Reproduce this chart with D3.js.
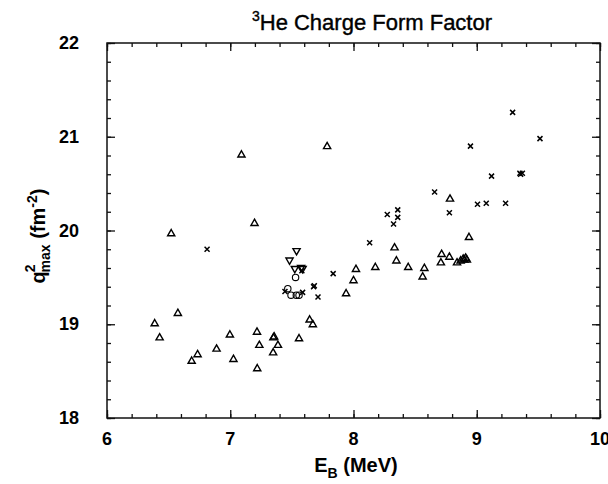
<!DOCTYPE html>
<html>
<head>
<meta charset="utf-8">
<script src="https://cdn.jsdelivr.net/npm/d3@7"></script>
<style>
  body { margin: 0; background: #fff; }
  svg { display: block; }
  .tick-label { font-family: "Liberation Sans", Arial, sans-serif; font-weight: bold; font-size: 18px; fill: #000; }
  .axis-label { font-family: "Liberation Sans", Arial, sans-serif; font-weight: bold; font-size: 20px; fill: #000; }
  .title { font-family: "Liberation Sans", Arial, sans-serif; font-size: 22px; fill: #000; stroke: #000; stroke-width: 0.4; }
</style>
</head>
<body>
<svg id="chart" width="608" height="484"></svg>
<script>
/*** DATA ***/

// triangles (point up)
let tri_x = [6.387, 6.427, 6.521, 6.575, 6.687, 6.735, 6.889, 6.997, 7.026, 7.091,
             7.197, 7.217, 7.219, 7.236, 7.348, 7.350, 7.356, 7.387, 7.558, 7.644,
             7.670, 7.786, 7.940, 8.000, 8.020, 8.177, 8.333, 8.348, 8.444, 8.561,
             8.575, 8.709, 8.715, 8.778, 8.783, 8.840, 8.869, 8.890, 8.900, 8.910, 8.920, 8.937];
let tri_y = [19.01, 18.86, 19.97, 19.12, 18.61, 18.68, 18.74, 18.89, 18.63, 20.81,
             20.08, 18.92, 18.53, 18.78, 18.70, 18.86, 18.87, 18.78, 18.85, 19.05,
             19.00, 20.90, 19.33, 19.47, 19.59, 19.61, 19.82, 19.68, 19.61, 19.51,
             19.60, 19.66, 19.75, 19.72, 20.34, 19.66, 19.68, 19.70, 19.69, 19.71, 19.69, 19.93];

// triangles (point down)
let dtri_x = [7.481, 7.538, 7.524, 7.575, 7.587];
let dtri_y = [19.68, 19.78, 19.59, 19.60, 19.59];

// circles
let circ_x = [7.467, 7.530, 7.493, 7.536, 7.558];
let circ_y = [19.38, 19.50, 19.31, 19.31, 19.31];

// crosses
let cross_x = [6.812, 7.444, 7.581, 7.587, 7.676, 7.682, 7.712, 7.835, 8.131, 8.274,
               8.325, 8.359, 8.359, 8.658, 8.778, 8.949, 9.006, 9.077, 9.120, 9.234,
               9.291, 9.350, 9.356, 9.370, 9.513];
let cross_y = [19.80, 19.35, 19.57, 19.34, 19.40, 19.41, 19.29, 19.54, 19.87, 20.17,
               20.07, 20.22, 20.14, 20.41, 20.19, 20.90, 20.28, 20.29, 20.58, 20.29,
               21.26, 20.61, 20.60, 20.61, 20.98];

let x_ticks = [6, 7, 8, 9, 10];
let y_ticks = [18, 19, 20, 21, 22];

/*** SETUP ***/

let svg = d3.select("#chart");

let margin = {top: 43, right: 8, bottom: 66, left: 107},
    width  = 608 - margin.left - margin.right,
    height = 484 - margin.top - margin.bottom;

let x = d3.scaleLinear().domain([6, 10]).range([0, width]),
    y = d3.scaleLinear().domain([18, 22]).range([height, 0]);

let g = svg.append("g").attr("transform", `translate(${margin.left}, ${margin.top})`);

function zip(a, b) { return a.map((v, i) => [v, b[i]]); }

/*** AXES ***/

function render_axes() {
    let minor_x = d3.range(6, 10.001, 0.2),
        minor_y = d3.range(18, 22.001, 0.2);
    let pos = [`translate(0, ${height})`, "translate(0, 0)", "translate(0, 0)", `translate(${width}, 0)`];

    // inward ticks on all four sides: minor then major
    [[minor_x, minor_y, -4], [x_ticks, y_ticks, -8]].forEach(([tx, ty, len]) => {
        let ax = [
            d3.axisBottom(x).tickValues(tx),
            d3.axisTop(x).tickValues(tx),
            d3.axisLeft(y).tickValues(ty),
            d3.axisRight(y).tickValues(ty)
        ];
        ax.forEach((a, i) => {
            g.append("g").attr("transform", pos[i])
                .call(a.tickSize(len).tickFormat("").tickSizeOuter(0))
                .call(s => s.selectAll("line").attr("stroke", "#111").attr("stroke-width", 1.3))
                .call(s => s.select(".domain").remove());
        });
    });

    // frame
    g.append("rect")
        .attr("x", 0).attr("y", 0)
        .attr("width", width).attr("height", height)
        .attr("fill", "none").attr("stroke", "#111").attr("stroke-width", 1.5);

    // tick labels
    g.selectAll("text.xl").data(x_ticks).enter()
        .append("text").attr("class", "tick-label")
        .attr("x", d => x(d)).attr("y", height + 27)
        .attr("text-anchor", "middle")
        .text(d => d);

    g.selectAll("text.yl").data(y_ticks).enter()
        .append("text").attr("class", "tick-label")
        .attr("x", -28).attr("y", d => y(d) + 6)
        .attr("text-anchor", "end")
        .text(d => d);

    // axis labels
    let xl = svg.append("text").attr("class", "axis-label")
        .attr("x", 356).attr("y", 472).attr("text-anchor", "middle");
    xl.append("tspan").text("E");
    xl.append("tspan").attr("dy", 6).attr("font-size", 14).text("B");
    xl.append("tspan").attr("dy", -6).text(" (MeV)");

    let yl = svg.append("text").attr("class", "axis-label")
        .attr("transform", "translate(45, 236) rotate(-90)")
        .attr("text-anchor", "middle");
    yl.append("tspan").text("q");
    yl.append("tspan").attr("dy", -10).attr("dx", -1).attr("font-size", 14).text("2");
    yl.append("tspan").attr("dy", 15).attr("dx", -8).attr("font-size", 14).text("max");
    yl.append("tspan").attr("dy", -5).text("  (fm");
    yl.append("tspan").attr("dy", -8).attr("font-size", 14).text("-2");
    yl.append("tspan").attr("dy", 8).text(")");

    // title
    let t = svg.append("text").attr("class", "title")
        .attr("x", 372).attr("y", 30).attr("text-anchor", "middle");
    t.append("tspan").attr("dy", -9).attr("font-size", 14).text("3");
    t.append("tspan").attr("dy", 9).text("He Charge Form Factor");
}

/*** MARKERS ***/

function render_points() {
    let tri = "M0,-3.8L3.6,2.5L-3.6,2.5Z",
        dtri = "M0,3.8L3.6,-2.5L-3.6,-2.5Z",
        crs = "M-2.5,-2.5L2.5,2.5M-2.5,2.5L2.5,-2.5";

    g.selectAll("path.tri").data(zip(tri_x, tri_y)).enter()
        .append("path").attr("class", "tri")
        .attr("d", tri)
        .attr("transform", d => `translate(${x(d[0])}, ${y(d[1])})`)
        .attr("fill", "none").attr("stroke", "#000").attr("stroke-width", 1.4);

    g.selectAll("path.dtri").data(zip(dtri_x, dtri_y)).enter()
        .append("path").attr("class", "dtri")
        .attr("d", dtri)
        .attr("transform", d => `translate(${x(d[0])}, ${y(d[1])})`)
        .attr("fill", "none").attr("stroke", "#000").attr("stroke-width", 1.4);

    g.selectAll("circle.pt").data(zip(circ_x, circ_y)).enter()
        .append("circle").attr("class", "pt")
        .attr("cx", d => x(d[0])).attr("cy", d => y(d[1])).attr("r", 3.2)
        .attr("fill", "none").attr("stroke", "#000").attr("stroke-width", 1.1);

    g.selectAll("path.crs").data(zip(cross_x, cross_y)).enter()
        .append("path").attr("class", "crs")
        .attr("d", crs)
        .attr("transform", d => `translate(${x(d[0])}, ${y(d[1])})`)
        .attr("fill", "none").attr("stroke", "#000").attr("stroke-width", 1.5);
}

render_axes();
render_points();
</script>
</body>
</html>
